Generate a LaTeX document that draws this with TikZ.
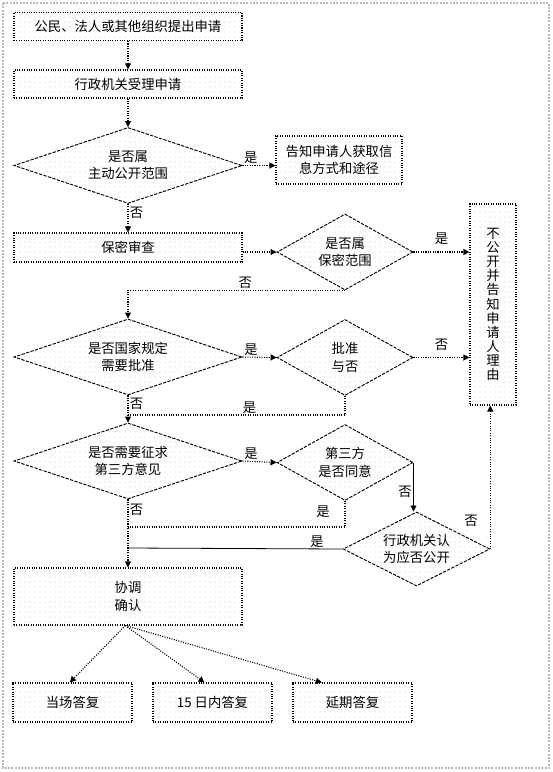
\documentclass[tikz,border=0pt]{standalone}
\usepackage{fontspec}
\newfontfamily\cjk{Noto Sans CJK SC}
\usetikzlibrary{arrows.meta,shapes.geometric,patterns.meta}
\definecolor{dotGray}{RGB}{120,120,120}
\definecolor{frameGray}{RGB}{185,185,185}

\begin{document}
\begin{tikzpicture}[x=0.75pt,y=-0.75pt,
    font=\cjk\fontsize{10}{13}\selectfont,
    box/.style={draw,densely dotted,line width=0.8pt,align=center,inner sep=1pt,
      pattern={Dots[distance=3.75pt,radius=0.35pt]},pattern color=dotGray},
    dia/.style={diamond,draw,dash pattern=on 2.5pt off 1pt,line width=0.7pt,align=center,inner sep=0pt,aspect=2,
      pattern={Dots[distance=3.75pt,radius=0.35pt]},pattern color=dotGray},
    bigdia/.style={dia,minimum width=171pt,minimum height=57pt},
    smalldia/.style={dia,minimum width=102pt,minimum height=57pt},
    arrow/.style={-{Triangle[length=4.5pt,width=4.5pt]},densely dotted,line width=0.8pt},
    line/.style={densely dotted,line width=0.8pt},
    lab/.style={inner sep=1pt}
  ]
  \useasboundingbox (0,0) rectangle (553,772);
  \draw[frameGray,line width=1.5pt,densely dotted] (3,3) rectangle (549,768);

  \node[box,minimum width=171pt,minimum height=21pt] (shenqing) at (128,26.5) {公民、法人或其他组织提出申请};
  \node[box,minimum width=171pt,minimum height=21pt] (shouli) at (128,84) {行政机关受理申请};
  \node[bigdia] (zhudong) at (128,165.5) {是否属\\主动公开范围};
  \node[box,minimum width=94.5pt,minimum height=36pt] (gaozhi) at (339,160) {告知申请人获取信\\息方式和途径};
  \node[box,minimum width=171pt,minimum height=21.75pt] (shencha) at (128,247.5) {保密审查};
  \node[smalldia] (baomi) at (345,252) {是否属\\保密范围};
  \node[box,minimum width=34.5pt,minimum height=150.75pt,font=\cjk\fontsize{10}{10.6}\selectfont] (bugongkai) at (493,304.5)
    {不\\公\\开\\并\\告\\知\\申\\请\\人\\理\\由};
  \node[bigdia] (guojia) at (128,357) {是否国家规定\\需要批准};
  \node[smalldia] (pizhun) at (345,357.5) {批准\\与否};
  \node[bigdia] (zhengqiu) at (128,461) {是否需要征求\\第三方意见};
  \node[smalldia] (disanfang) at (345,462.5) {第三方\\是否同意};
  \node[dia,minimum width=110pt,minimum height=55.5pt] (renwei) at (416.5,549) {行政机关认\\为应否公开};
  \node[box,minimum width=171pt,minimum height=42.75pt] (xietiao) at (128,596.5) {协调\\确认};
  \node[box,minimum width=89.25pt,minimum height=29.25pt] (dangchang) at (72.5,702.5) {当场答复};
  \node[box,minimum width=89.25pt,minimum height=29.25pt] (shiwu) at (212.5,702.5) {15 日内答复};
  \node[box,minimum width=89.25pt,minimum height=29.25pt] (yanqi) at (352.5,702.5) {延期答复};

  \coordinate (m1) at (128,415);
  \coordinate (m2) at (128,527);
  \coordinate (m3) at (128,548);

  \draw[arrow] (shenqing) -- (shouli);
  \draw[arrow] (shouli) -- (zhudong);
  \draw[arrow] (zhudong.east) -- node[lab,above,pos=0.25] {是} (zhudong.east -| gaozhi.west);
  \draw[arrow] (zhudong) -- node[lab,right,pos=0.3] {否} (shencha);
  \draw[arrow] (shencha.east |- baomi.west) -- (baomi.west);
  \draw[arrow] (baomi.east) -- node[lab,above=4pt] {是} (baomi.east -| bugongkai.west);
  \draw[arrow] (baomi.south) -| node[lab,above,pos=0.23] {否} (guojia.north);
  \draw[arrow] (guojia.east) -- node[lab,above,pos=0.25] {是} (pizhun.west);
  \draw[arrow] (pizhun.east) -- node[lab,above=4pt] {否} (pizhun.east -| bugongkai.west);
  \draw[line] (pizhun.south) |- node[lab,above,pos=0.72] {是} (m1);
  \draw[arrow] (guojia.south) -- node[lab,right,pos=0.3] {否} (zhengqiu.north);
  \draw[arrow] (zhengqiu.east) -- node[lab,above,pos=0.25] {是} (disanfang.west);
  \draw[arrow,solid,line width=0.5pt] (disanfang.east) -- node[lab,left,pos=0.6] {否} (disanfang.east |- renwei.north);
  \draw[arrow] (renwei.east) -- node[lab,left=8pt,pos=0.2] {否} (renwei.east |- bugongkai.south);
  \draw[line] (disanfang.south) |- node[lab,left=10pt,pos=0.2] {是} (m2);
  \draw[line,solid,line width=0.6pt] (renwei.west) -- node[lab,above,pos=0.12] {是} (m3);
  \draw[arrow] (zhengqiu.south) -- node[lab,right,pos=0.15] {否} (xietiao.north);
  \draw[arrow] ([xshift=-2pt]xietiao.south) -- ([xshift=-2pt]dangchang.north);
  \draw[arrow] ([xshift=-2pt]xietiao.south) -- ([xshift=-6pt]shiwu.north);
  \draw[arrow] ([xshift=-2pt]xietiao.south) -- ([xshift=-23pt]yanqi.north);
\end{tikzpicture}
\end{document}
